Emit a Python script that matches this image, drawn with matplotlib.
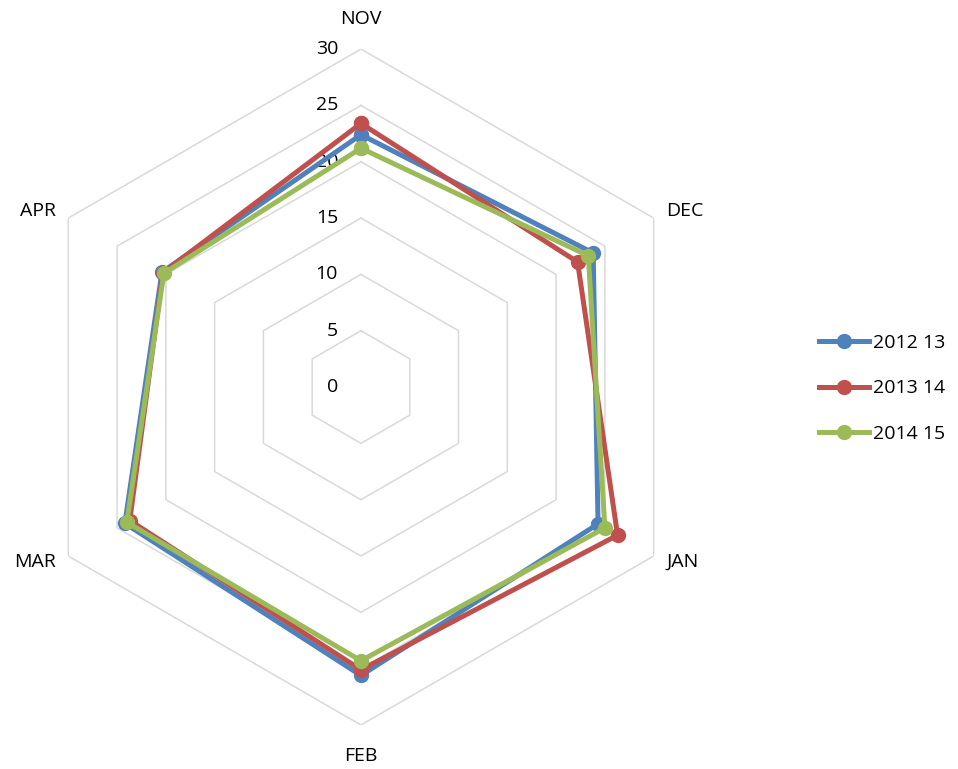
import matplotlib.pyplot as plt
import numpy as np

plt.rcParams['font.family'] = ['Open Sans', 'DejaVu Sans']

months = ["NOV", "DEC", "JAN", "FEB", "MAR", "APR"]
season_2012_13 = [22.4, 23.8, 24.3, 25.6, 24.2, 20.4]
season_2013_14 = [23.4, 22.2, 26.3, 25.1, 23.7, 20.3]
season_2014_15 = [21.2, 23.3, 25.0, 24.3, 24.0, 20.2]
series_names = ["2012 13", "2013 14", "2014 15"]
ring_values = [5, 10, 15, 20, 25, 30]
ring_labels = ["0", "5", "10", "15", "20", "25", "30"]

colors = ["#4F81BD", "#C0504D", "#9BBB59"]

fig = plt.figure(figsize=(9.58, 7.69), dpi=100)
ax = fig.add_axes([0.024, 0.0572, 0.7056, 0.879], projection="polar")
ax.set_theta_offset(np.pi / 2)
ax.set_theta_direction(-1)
ax.set_ylim(0, 30)
ax.grid(False)
ax.spines["polar"].set_visible(False)
ax.set_xticks([])
ax.set_yticks([])

angles = np.linspace(0, 2 * np.pi, len(months), endpoint=False)
closed = np.append(angles, angles[0])

# hexagonal grid rings
for r in ring_values:
    ax.plot(closed, [r] * len(closed), color="#D9D9D9", lw=1.1, zorder=1)

# radial scale labels along the top spoke
for i, lab in enumerate(ring_labels):
    ax.annotate(lab, xy=(0, i * 5), xytext=(-16.5, 0), textcoords="offset points",
                ha="right", va="center", fontsize=14, color="#000000")

# month labels just outside the outer ring
label_offsets = [(0, 22), (9, 5), (9, -4), (0, -22.5), (-9, -4), (-9, 5)]
label_align = ["center", "left", "left", "center", "right", "right"]
for a, m, off, ha in zip(angles, months, label_offsets, label_align):
    ax.annotate(m, xy=(a, 30), xytext=off, textcoords="offset points",
                ha=ha, va="center", fontsize=14)

for vals, name, c in zip([season_2012_13, season_2013_14, season_2014_15], series_names, colors):
    v = np.append(vals, vals[0])
    ax.plot(closed, v, color=c, lw=3.6, marker="o", markersize=10,
            label=name, zorder=3, solid_joinstyle="round")

fig.legend(loc="center left", bbox_to_anchor=(0.837, 0.495), frameon=False,
           fontsize=14, handlelength=2.55, labelspacing=1.4, handletextpad=0.2)

fig.savefig("out.png", dpi=100)
